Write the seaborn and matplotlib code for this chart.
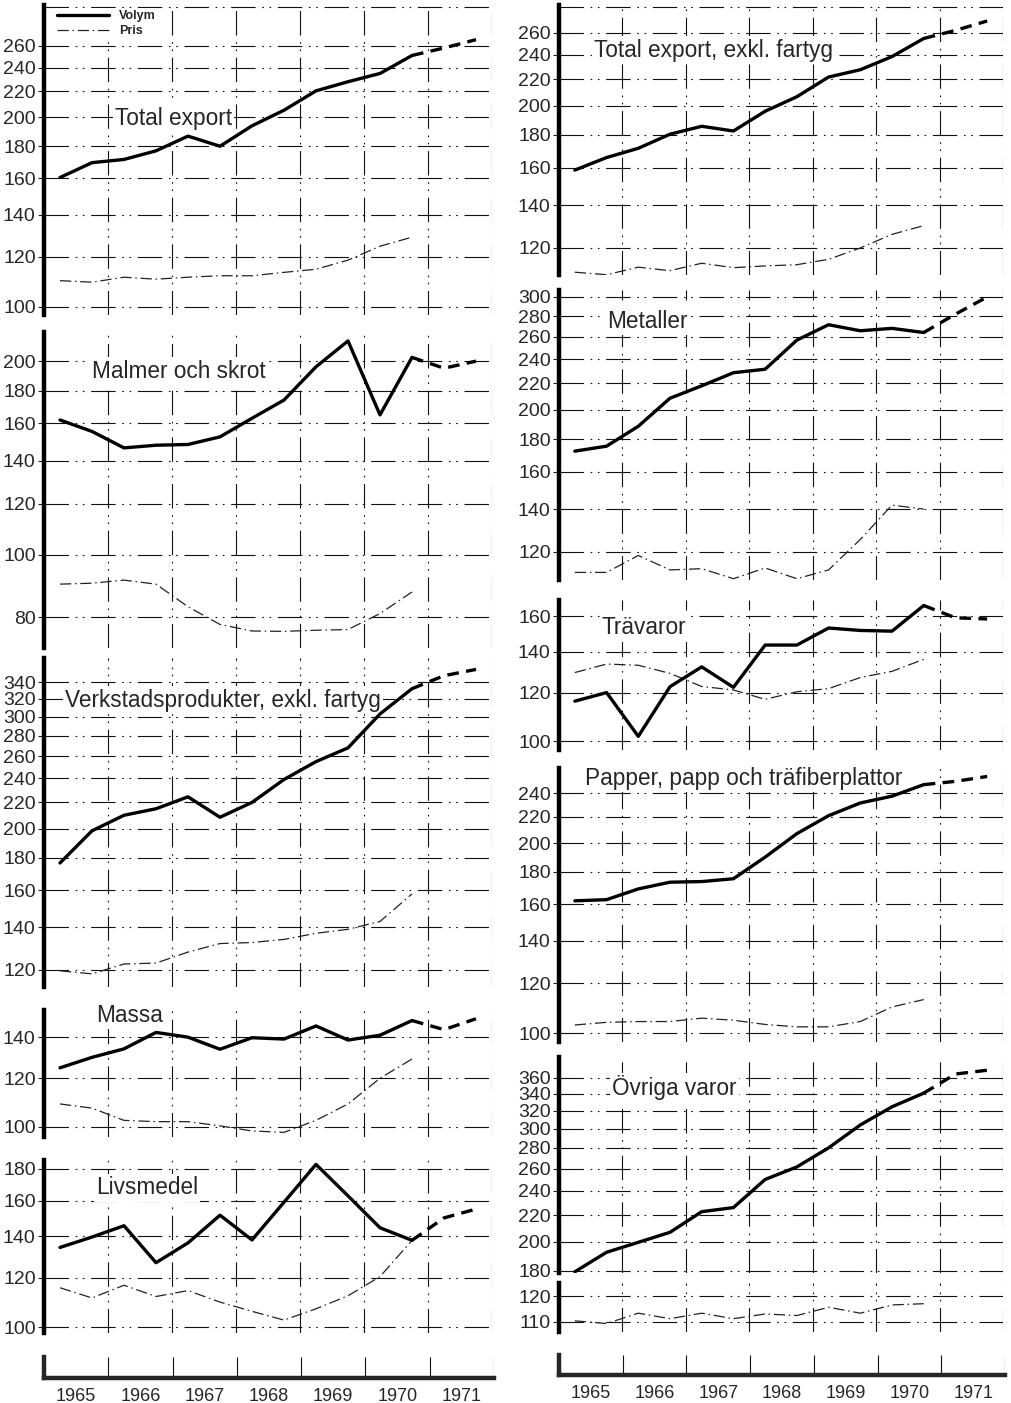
import numpy as np
import pandas as pd
import matplotlib
matplotlib.use("Agg")
import matplotlib.pyplot as plt
from matplotlib.ticker import NullLocator, NullFormatter
import seaborn as sns

# halvårsvärden 1965-1971, de två sista är prognos (streckad)
periods = [1965.25, 1965.75, 1966.25, 1966.75, 1967.25, 1967.75, 1968.25,
           1968.75, 1969.25, 1969.75, 1970.25, 1970.75, 1971.25, 1971.75]
years = [1965, 1966, 1967, 1968, 1969, 1970, 1971]

total_volym = [160.5, 169.5, 171.5, 177, 186.8, 180, 194, 205.4, 220.5, 228, 235, 251, 258, 266]
total_pris = [110, 109.4, 111.4, 110.6, 111.4, 112, 112, 113.4, 114.7, 118.6, 124.8, 129]

malm_volym = [162, 155.5, 146.6, 148, 148.4, 152.5, 163, 174, 196, 215, 165, 202.7, 195, 200]
malm_pris = [90, 90.3, 91.3, 90, 83, 77.9, 76.1, 76, 76.3, 76.5, 81, 87.5]

verk_volym = [176.7, 198.5, 210, 215, 224.5, 208.5, 220, 239, 255, 268, 303, 332, 348, 356]
verk_pris = [119.6, 118.3, 122.6, 123, 128, 132, 132.5, 134, 137, 139, 143, 158]

massa_volym = [124.8, 129.8, 134, 142.5, 140, 133.8, 139.7, 139, 146, 138.5, 141, 149, 144, 150]
massa_pris = [109, 107.3, 102.5, 102, 102, 100.4, 98.5, 98, 102.5, 109, 120, 129]

livs_volym = [134.4, 139.7, 145.7, 127, 136.7, 151.5, 138.2, 159, 183, 162.8, 144.6, 138, 150, 155]
livs_pris = [115.7, 111.4, 116.8, 112, 114.5, 109.7, 106, 102.6, 107, 112.3, 120.6, 138]

totexkl_volym = [158.7, 166, 171.6, 180.5, 185.7, 182.6, 196, 206.5, 221.6, 227.5, 238.5, 254.5, 262, 271]
totexkl_pris = [110, 109, 112, 110.6, 113.6, 111.8, 112.5, 113, 115.2, 120, 126, 130]

metall_volym = [172.4, 175.5, 188.5, 208.5, 218, 228.5, 231.4, 256.9, 271.5, 265.7, 268, 264, 282, 300]
metall_pris = [111.5, 111.5, 118.5, 112.5, 113, 109, 113.3, 109, 112.5, 125.5, 142, 140]

tra_volym = [116.2, 120, 101.8, 122.7, 132.2, 122.4, 143.5, 143.5, 153, 151.6, 151.2, 166.5, 159, 158.3]
tra_pris = [129.4, 133.6, 133, 129, 122.8, 121.2, 117, 120.4, 121.8, 127, 130, 136]

papper_volym = [162, 162.7, 169.2, 173.4, 173.8, 175.6, 190, 207, 221, 231.5, 237.3, 247.5, 250.5, 255]
papper_pris = [103, 104, 104.3, 104.3, 105.6, 104.8, 103.2, 102.3, 102.3, 104.3, 110, 113]

ovr_volym = [179.5, 192.5, 199.5, 206.8, 222.7, 226, 250, 261.5, 280, 304, 324.5, 340.8, 365, 370]
ovr_pris = [110.4, 109.4, 113.3, 111.2, 113.3, 111.2, 113, 112.4, 115.6, 113.3, 116.5, 117]

W, H = 1012, 1403
GRID_LS = (0, (22, 6, 1.5, 5, 1.5, 6))
PRIS_LS = (0, (9, 3, 1.2, 3))
FONT = ['Liberation Sans', 'DejaVu Sans']

sns.set_style("white")
plt.rcParams['font.family'] = FONT

fig = plt.figure(figsize=(W / 100, H / 100), dpi=100)


def make_ax(x0, x1, y0, y1):
    return fig.add_axes([x0 / W, 1 - y1 / H, (x1 - x0) / W, (y1 - y0) / H])


def style_ax(ax, ticks, ylim, extra_grid=()):
    ax.set_yscale('log')
    ax.set_xlim(1965, 1972)
    ax.set_ylim(*ylim)
    for t in list(ticks) + list(extra_grid):
        ax.axhline(t, color='#111111', lw=0.8, ls=GRID_LS, zorder=1)
    for yr in years[1:] + [1972]:
        ax.axvline(yr, color='#111111', lw=0.8, ls=GRID_LS, zorder=1)
    ax.set_yticks(ticks, labels=[str(t) for t in ticks])
    ax.yaxis.set_minor_locator(NullLocator())
    ax.yaxis.set_minor_formatter(NullFormatter())
    ax.set_xticks([])
    ax.tick_params(axis='y', length=4, width=0.8, pad=2, labelsize=14, left=True)
    for s in ['top', 'right', 'bottom']:
        ax.spines[s].set_visible(False)
    ax.spines['left'].set_linewidth(3.2)
    ax.spines['left'].set_color('black')
    ax.patch.set_alpha(0)


def draw_volym(ax, volym, label=None):
    df = pd.DataFrame({'period': periods, 'volym': volym})
    sns.lineplot(data=df.iloc[:12], x='period', y='volym', ax=ax, color='black',
                 lw=2.4, estimator=None, label=label, zorder=3)
    sns.lineplot(data=df.iloc[11:], x='period', y='volym', ax=ax, color='black',
                 lw=2.4, estimator=None, linestyle=(0, (3.5, 2.2)), zorder=3)
    ax.set_xlabel('')
    ax.set_ylabel('')


def draw_pris(ax, pris, label=None):
    df = pd.DataFrame({'period': periods[:12], 'pris': pris})
    sns.lineplot(data=df, x='period', y='pris', ax=ax, color='#222222', lw=0.9,
                 estimator=None, linestyle=PRIS_LS, label=label, zorder=2)
    ax.set_xlabel('')
    ax.set_ylabel('')


def year_strip(x0, x1, y0, y1):
    ax = make_ax(x0, x1, y0, y1)
    ax.set_xlim(1965, 1972)
    ax.set_ylim(0, 1)
    for yr in years[1:] + [1972]:
        ax.axvline(yr, color='#111111', lw=0.8, ls=GRID_LS)
    ax.set_yticks([])
    ax.set_xticks([y + 0.5 for y in years], labels=[str(y) for y in years])
    ax.tick_params(axis='x', length=0, pad=7, labelsize=13)
    ax.spines['top'].set_visible(False)
    ax.spines['right'].set_visible(False)
    ax.spines['left'].set_linewidth(3.2)
    ax.spines['bottom'].set_linewidth(3.2)
    ax.patch.set_alpha(0)


def title(ax, x, y, text):
    # white box hides the grid, but stays under the data lines
    ax.text(x / W, 1 - y / H, text, transform=fig.transFigure, fontsize=16.3,
            ha='left', va='center', zorder=2.5, clip_on=False,
            bbox=dict(facecolor='white', edgecolor='none', pad=1.5))


# vänster kolumn
LX0, LX1 = 44, 492
ax = make_ax(LX0, LX1, 5, 315)
style_ax(ax, [100, 120, 140, 160, 180, 200, 220, 240, 260], (97, 302), extra_grid=[300])
draw_volym(ax, total_volym, label='Volym')
draw_pris(ax, total_pris, label='Pris')
leg = ax.legend(loc='upper left', bbox_to_anchor=(0.02, 0.995), frameon=True,
                facecolor='white', edgecolor='none', framealpha=1,
                handlelength=4.2, labelspacing=0.25, borderaxespad=0.1, borderpad=0.2,
                prop={'weight': 'bold', 'size': 9, 'family': FONT})
title(ax, 115, 118, 'Total export')

ax = make_ax(LX0, LX1, 332, 648)
style_ax(ax, [80, 100, 120, 140, 160, 180, 200], (71.6, 222))
draw_volym(ax, malm_volym)
draw_pris(ax, malm_pris)
title(ax, 92, 371, 'Malmer och skrot')

ax = make_ax(LX0, LX1, 658, 987)
style_ax(ax, [120, 140, 160, 180, 200, 220, 240, 260, 280, 300, 320, 340], (112.8, 371))
draw_volym(ax, verk_volym)
draw_pris(ax, verk_pris)
title(ax, 65, 700, 'Verkstadsprodukter, exkl. fartyg')

ax = make_ax(LX0, LX1, 1010, 1137)
style_ax(ax, [100, 120, 140], (96.3, 155))
draw_volym(ax, massa_volym)
draw_pris(ax, massa_pris)
title(ax, 96, 1015, 'Massa')

ax = make_ax(LX0, LX1, 1160, 1333)
style_ax(ax, [100, 120, 140, 160, 180], (97.8, 186))
draw_volym(ax, livs_volym)
draw_pris(ax, livs_pris)
title(ax, 96, 1188, 'Livsmedel')

year_strip(LX0, 494, 1357, 1378)

# höger kolumn
RX0, RX1 = 559, 1003
ax = make_ax(RX0, RX1, 5, 275)
style_ax(ax, [120, 140, 160, 180, 200, 220, 240, 260], (108.9, 287), extra_grid=[285])
draw_volym(ax, totexkl_volym)
draw_pris(ax, totexkl_pris)
title(ax, 594, 50, 'Total export, exkl. fartyg')

ax = make_ax(RX0, RX1, 290, 580)
style_ax(ax, [120, 140, 160, 180, 200, 220, 240, 260, 280, 300], (108.5, 307.6))
draw_volym(ax, metall_volym)
draw_pris(ax, metall_pris)
title(ax, 607, 321, 'Metaller')

ax = make_ax(RX0, RX1, 600, 750)
style_ax(ax, [100, 120, 140, 160], (96.7, 170))
draw_volym(ax, tra_volym)
draw_pris(ax, tra_pris)
title(ax, 602, 628, 'Trävaror')

ax = make_ax(RX0, RX1, 768, 1042)
style_ax(ax, [100, 120, 140, 160, 180, 200, 220, 240], (96.8, 263))
draw_volym(ax, papper_volym)
draw_pris(ax, papper_pris)
title(ax, 585, 778, 'Papper, papp och träfiberplattor')

ax = make_ax(RX0, RX1, 1057, 1273)
style_ax(ax, [180, 200, 220, 240, 260, 280, 300, 320, 340, 360], (178.7, 388))
draw_volym(ax, ovr_volym)
title(ax, 612, 1088, 'Övriga varor')

ax = make_ax(RX0, RX1, 1283, 1332)
style_ax(ax, [110, 120], (106.3, 125.5))
draw_pris(ax, ovr_pris)

year_strip(RX0, 1005, 1355, 1375)

fig.savefig('out.png', dpi=100, facecolor='white')
